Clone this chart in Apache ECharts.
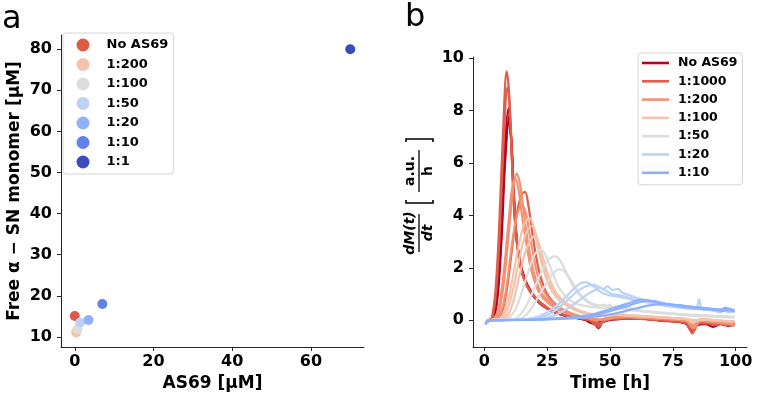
<!DOCTYPE html>
<html><head><meta charset="utf-8">
<script src="https://cdn.jsdelivr.net/npm/echarts@6/dist/echarts.min.js"></script>
<style>html,body{margin:0;padding:0;background:#fff}#c{width:759px;height:400px}</style>
</head><body><div id="c"></div>
<script>
// ---------- Panel a data ----------
const ratiosA = ['No AS69','1:200','1:100','1:50','1:20','1:10','1:1'];
const as69Conc = [0, 0.35, 0.7, 1.4, 3.5, 7, 70];
const freeMonomer = [15.1, 11.1, 11.9, 13.5, 14.1, 18.0, 80.0];
const colorsA = ['#dc5a46','#f3c2aa','#dcdcdd','#bed2f6','#8fb1fe','#6282ea','#3b4cc0'];
const xTicksA = [0, 20, 40, 60];
const yTicksA = [10, 20, 30, 40, 50, 60, 70, 80];

// ---------- Panel b data ----------
const ratiosB = ['No AS69','1:1000','1:200','1:100','1:50','1:20','1:10'];
const colorsB = ['#b40426','#dd5f4b','#f29274','#f4c3ab','#dcdddd','#bcd2f7','#8db0fe'];
const xTicksB = [0, 25, 50, 75, 100];
const yTicksB = [0, 2, 4, 6, 8, 10];

const noAS69_1 = [[0.5,-0.1],[2,0],[3.5,0.15],[5,1.0],[6.5,3.2],[8,6.4],[9.6,8.1],[10.6,7.0],[11.5,5.0],[12.5,3.4],[14,2.3],[16,1.6],[18,1.2],[20,0.9],[23,0.6],[26,0.4],[30,0.25],[34,0.15],[38,0.08],[41,0.0],[43,-0.1],[45,-0.2],[46.5,-0.05],[50,0.05],[55,0.1],[60,0.05],[65,0.05],[70,0.0],[75,-0.02],[80,-0.08],[82.5,-0.4],[84,-0.1],[88,-0.12],[92,-0.15],[95,-0.1],[97,-0.22],[99.5,-0.12]];
const noAS69_2 = [[0.5,-0.12],[2,0],[3.8,0.12],[5.3,0.9],[6.8,3.0],[8.3,6.1],[9.9,7.8],[10.9,6.6],[11.8,4.7],[12.8,3.2],[14.3,2.2],[16.3,1.5],[18.3,1.1],[21,0.8],[24,0.55],[27,0.35],[31,0.2],[35,0.12],[39,0.05],[42,-0.05],[44,-0.15],[45.5,-0.3],[47,-0.08],[51,0.02],[56,0.06],[61,0.08],[66,0.03],[71,-0.02],[76,-0.05],[80,-0.12],[83,-0.45],[84.5,-0.2],[88,-0.15],[91,-0.25],[94,-0.15],[97,-0.18],[99.5,-0.2]];
const noAS69_3 = [[0.5,-0.1],[2,0],[3.6,0.1],[5.1,0.9],[6.6,3.0],[8.1,6.0],[9.8,7.6],[10.8,6.8],[11.7,4.9],[12.7,3.3],[14.2,2.2],[16.2,1.5],[18.2,1.1],[21,0.75],[24,0.5],[28,0.3],[32,0.18],[36,0.1],[40,0.02],[43,-0.12],[45,-0.1],[48,0.0],[53,0.08],[58,0.1],[63,0.06],[68,0.02],[73,0.0],[78,-0.06],[82,-0.2],[83.5,-0.35],[85,-0.08],[89,-0.1],[93,-0.12],[96,-0.15],[99.5,-0.08]];

const r1000_1 = [[0.5,-0.12],[2,0],[3,0.1],[4.5,1.2],[6,3.8],[7.5,7.3],[8.9,9.5],[9.9,8.6],[11,6.0],[12.2,3.8],[13.5,2.5],[15,1.8],[17,1.3],[19,1.0],[22,0.7],[25,0.45],[29,0.3],[33,0.18],[37,0.1],[41,0.02],[44,-0.1],[45.5,-0.25],[47,-0.05],[50,0.05],[55,0.08],[60,0.06],[65,0.04],[70,0.0],[75,-0.03],[80,-0.1],[82.8,-0.5],[84,-0.15],[88,-0.1],[92,-0.18],[95,-0.1],[98,-0.2],[99.5,-0.1]];
const r1000_2 = [[0.5,-0.1],[2,0],[3.2,0.1],[4.7,1.1],[6.2,3.5],[7.7,6.8],[9.2,8.9],[10.2,8.0],[11.3,5.6],[12.5,3.6],[13.8,2.4],[15.3,1.7],[17.3,1.25],[19.5,0.95],[22.5,0.65],[26,0.42],[30,0.26],[34,0.15],[38,0.08],[42,0.0],[44.5,-0.18],[46,-0.1],[49,0.02],[54,0.06],[59,0.08],[64,0.05],[69,0.02],[74,-0.02],[79,-0.06],[82,-0.15],[83.3,-0.42],[85,-0.1],[89,-0.12],[93,-0.1],[96,-0.2],[99.5,-0.15]];
const r1000_3 = [[0.5,-0.1],[2,0],[5,0.05],[7,0.3],[9,1.2],[11,2.7],[13,4.1],[14.8,4.8],[16.2,4.9],[17.5,4.4],[19,3.4],[20.5,2.5],[22,1.8],[24,1.2],[26,0.85],[29,0.55],[33,0.3],[37,0.15],[41,0.05],[44,-0.05],[46,-0.15],[48,0.0],[52,0.08],[58,0.1],[64,0.06],[70,0.02],[76,0.0],[81,-0.08],[83,-0.35],[85,-0.05],[90,-0.1],[95,-0.15],[99.5,-0.1]];

const r200_1 = [[0.5,-0.1],[2,0],[4,0.05],[6,0.4],[8,1.6],[10,3.6],[11.5,5.0],[12.8,5.6],[14,5.3],[15.5,4.3],[17,3.2],[19,2.1],[21,1.4],[23,1.0],[26,0.7],[30,0.42],[34,0.25],[38,0.15],[42,0.08],[46,0.02],[50,0.1],[55,0.14],[60,0.12],[65,0.1],[70,0.08],[75,0.04],[80,0.0],[83,-0.3],[85,0.0],[90,-0.05],[95,-0.12],[99.5,-0.15]];
const r200_2 = [[0.5,-0.1],[2,0],[4,0.08],[5.8,0.5],[7.7,1.8],[9.6,3.7],[11,5.0],[12.3,5.4],[13.6,5.0],[15,4.0],[16.6,3.0],[18.5,2.0],[20.5,1.35],[22.5,0.95],[25.5,0.65],[29,0.42],[33,0.26],[37,0.15],[41,0.08],[45,0.0],[48,0.06],[53,0.12],[58,0.12],[63,0.1],[68,0.07],[73,0.05],[78,0.0],[82,-0.1],[83.8,-0.28],[86,-0.02],[91,-0.08],[96,-0.1],[99.5,-0.2]];
const r200_3 = [[0.5,-0.1],[2,0],[5,0.08],[7,0.4],[9,1.4],[11,2.9],[13,4.0],[15,4.4],[16.5,4.1],[18,3.3],[19.5,2.5],[21,1.8],[23,1.25],[25,0.9],[28,0.6],[32,0.38],[36,0.22],[40,0.12],[44,0.05],[48,0.02],[52,0.1],[57,0.13],[62,0.1],[67,0.08],[72,0.04],[77,0.02],[81,-0.05],[83,-0.2],[85,0.02],[90,-0.02],[95,-0.08],[99.5,-0.1]];

const r100_1 = [[0.5,-0.1],[2,0],[6,0.06],[8,0.35],[10,1.0],[12,2.0],[14,3.0],[16,3.7],[18,3.9],[19.5,3.6],[21,2.9],[23,2.1],[25,1.5],[27,1.1],[30,0.75],[34,0.5],[38,0.32],[42,0.22],[46,0.15],[50,0.2],[55,0.2],[60,0.16],[65,0.14],[70,0.12],[75,0.08],[80,0.05],[83,-0.1],[86,0.04],[90,0.0],[95,-0.02],[99.5,-0.05]];
const r100_2 = [[0.5,-0.1],[2,0],[7,0.06],[9,0.35],[11,1.0],[13,1.9],[15,2.8],[17,3.4],[19,3.6],[20.5,3.3],[22,2.7],[24,1.95],[26,1.4],[28,1.05],[31,0.72],[35,0.48],[39,0.32],[43,0.22],[47,0.18],[51,0.22],[56,0.2],[61,0.16],[66,0.14],[71,0.1],[76,0.08],[81,0.04],[84,-0.05],[87,0.05],[92,0.0],[96,-0.04],[99.5,-0.02]];
const r100_3 = [[0.5,-0.1],[2,0],[8,0.06],[10,0.3],[12,0.9],[14,1.7],[16,2.5],[18,3.0],[20,3.2],[21.5,3.0],[23,2.5],[25,1.85],[27,1.35],[29,1.0],[32,0.7],[36,0.46],[40,0.3],[44,0.22],[48,0.2],[52,0.24],[57,0.2],[62,0.17],[67,0.13],[72,0.1],[77,0.07],[82,0.03],[85,0.0],[90,0.02],[95,-0.02],[99.5,-0.04]];

const r50_1 = [[0.5,-0.12],[2,0],[9,0.05],[12,0.35],[14,0.8],[16,1.4],[18,2.0],[20,2.5],[22.3,2.7],[24,2.55],[26,2.1],[28,1.6],[30,1.2],[33,0.85],[36,0.65],[40,0.55],[44,0.5],[48,0.45],[50,0.6],[52,0.4],[55,0.55],[58,0.4],[62,0.35],[67,0.3],[72,0.26],[77,0.22],[82,0.18],[86,0.15],[90,0.14],[95,0.12],[99.5,0.1]];
const r50_2 = [[0.5,-0.12],[2,0],[12,0.05],[15,0.3],[18,0.8],[20,1.25],[22,1.7],[24,2.1],[26,2.35],[28,2.45],[30,2.3],[32,1.95],[34,1.55],[36,1.2],[39,0.85],[42,0.65],[45,0.55],[48,0.6],[50,0.45],[53,0.55],[56,0.42],[60,0.4],[65,0.33],[70,0.28],[75,0.25],[80,0.22],[85,0.2],[90,0.18],[95,0.15],[99.5,0.12]];
const r50_3 = [[0.5,-0.12],[2,0],[14,0.05],[17,0.25],[20,0.65],[23,1.15],[26,1.6],[28,1.85],[30,1.95],[32,1.85],[34,1.6],[36,1.3],[38,1.0],[41,0.75],[44,0.6],[47,0.55],[50,0.5],[53,0.45],[57,0.5],[60,0.4],[65,0.35],[70,0.3],[75,0.26],[80,0.22],[85,0.2],[90,0.17],[95,0.15],[99.5,0.13]];

const r20_1 = [[0.5,-0.15],[2,0],[15,0.03],[20,0.1],[24,0.25],[28,0.5],[32,0.85],[35,1.15],[38,1.4],[40,1.45],[42,1.4],[44,1.25],[46,1.1],[48,1.0],[50,0.95],[53,0.9],[56,0.85],[60,0.75],[64,0.7],[68,0.62],[72,0.55],[76,0.5],[80,0.45],[84,0.42],[85.5,0.8],[86.5,0.45],[90,0.4],[93,0.35],[95,0.45],[97,0.3],[99.5,0.35]];
const r20_2 = [[0.5,-0.15],[2,0],[18,0.03],[22,0.1],[26,0.25],[30,0.5],[34,0.85],[37,1.1],[40,1.28],[43,1.35],[45,1.3],[47,1.2],[49,1.1],[51,1.0],[54,0.95],[57,0.88],[60,0.8],[64,0.72],[68,0.65],[72,0.58],[76,0.52],[80,0.47],[84,0.43],[88,0.4],[91,0.38],[94,0.3],[96,0.42],[98,0.32],[99.5,0.38]];
const r20_3 = [[0.5,-0.15],[2,0],[20,0.03],[25,0.1],[30,0.28],[34,0.5],[38,0.78],[41,1.0],[44,1.15],[46,1.25],[47.5,1.2],[49,1.3],[51,1.15],[53,1.2],[55,1.05],[58,0.95],[61,0.85],[64,0.78],[68,0.7],[72,0.62],[76,0.55],[80,0.5],[84,0.45],[88,0.42],[92,0.38],[95,0.36],[97,0.45],[99.5,0.3]];

const r10_1 = [[0.5,-0.15],[1.5,0],[10,0.01],[20,0.03],[30,0.08],[38,0.15],[44,0.25],[50,0.42],[55,0.58],[59,0.7],[62,0.78],[65,0.75],[68,0.7],[72,0.62],[76,0.56],[80,0.5],[84,0.46],[88,0.42],[92,0.4],[95,0.36],[97,0.45],[99.5,0.32]];
const r10_2 = [[0.5,-0.15],[1.5,0],[12,0.01],[22,0.03],[32,0.08],[40,0.15],[46,0.25],[52,0.4],[57,0.55],[61,0.67],[65,0.75],[68,0.72],[71,0.66],[75,0.6],[79,0.55],[83,0.5],[87,0.46],[91,0.42],[94,0.4],[96,0.48],[98,0.36],[99.5,0.4]];
const r10_3 = [[0.5,-0.15],[1.5,0],[15,0.01],[25,0.03],[35,0.07],[43,0.13],[50,0.22],[56,0.35],[61,0.47],[65,0.56],[68,0.6],[71,0.62],[74,0.6],[78,0.57],[82,0.52],[86,0.48],[90,0.45],[93,0.42],[96,0.38],[98,0.44],[99.5,0.35]];

const curveGroups = [
  ['No AS69', [noAS69_1, noAS69_2, noAS69_3]],
  ['1:1000', [r1000_1, r1000_2, r1000_3]],
  ['1:200', [r200_1, r200_2, r200_3]],
  ['1:100', [r100_1, r100_2, r100_3]],
  ['1:50', [r50_1, r50_2, r50_3]],
  ['1:20', [r20_1, r20_2, r20_3]],
  ['1:10', [r10_1, r10_2, r10_3]]
];

// ---------- build ----------
const FONT = 'DejaVu Sans';
const AX = '#262626';
const chart = echarts.init(document.getElementById('c'), null, {renderer: 'canvas'});

function axisCommon(ticks, min, max) {
  return {
    type: 'value', min: min, max: max, splitLine: {show: false},
    axisLine: {show: true, onZero: false, lineStyle: {color: AX, width: 1}},
    axisTick: {show: true, inside: false, length: 4, customValues: ticks, lineStyle: {color: AX}},
    axisLabel: {customValues: ticks, color: '#000', fontSize: 16, fontWeight: 'bold', fontFamily: FONT},
    nameTextStyle: {color: '#000', fontSize: 17, fontWeight: 'bold', fontFamily: FONT}
  };
}

const series = [];
ratiosA.forEach((r, i) => {
  series.push({
    type: 'scatter', name: 'a|' + r, xAxisIndex: 0, yAxisIndex: 0,
    data: [[as69Conc[i], freeMonomer[i]]], symbolSize: 10,
    itemStyle: {color: colorsA[i], opacity: 1}, z: 2 + i
  });
});
curveGroups.forEach(([r, reps], gi) => {
  reps.forEach(rep => {
    series.push({
      type: 'line', name: 'b|' + r, xAxisIndex: 1, yAxisIndex: 1,
      data: rep, symbol: 'none', smooth: 0.35,
      lineStyle: {color: colorsB[gi], width: 2.2}, itemStyle: {color: colorsB[gi]},
      z: 2 + gi, animation: false
    });
  });
});

const xa = axisCommon(xTicksA, -3.5, 73.5);
xa.gridIndex = 0; xa.name = 'AS69 [µM]'; xa.nameLocation = 'middle'; xa.nameGap = 27; xa.axisLabel.margin = 7;
const ya = axisCommon(yTicksA, 7.55, 83.45);
ya.gridIndex = 0; ya.name = 'Free α − SN monomer [µM]'; ya.nameLocation = 'middle'; ya.nameGap = 38; ya.axisLabel.margin = 9;
const xb = axisCommon(xTicksB, -4.5, 104.5);
xb.gridIndex = 1; xb.name = 'Time [h]'; xb.nameLocation = 'middle'; xb.nameGap = 24; xb.axisLabel.margin = 7;
const yb = axisCommon(yTicksB, -1.02, 10.05);
yb.gridIndex = 1; yb.axisLabel.margin = 9;

const option = {
  animation: false,
  backgroundColor: '#fff',
  grid: [
    {left: 61, top: 35, width: 303, height: 312},
    {left: 473, top: 57, width: 274, height: 290}
  ],
  xAxis: [xa, xb],
  yAxis: [ya, yb],
  legend: [
    {
      data: ratiosA.map(r => ({name: 'a|' + r, icon: 'circle'})),
      formatter: n => n.split('|')[1],
      orient: 'vertical', left: 63, top: 33, itemWidth: 13, itemHeight: 13, itemGap: 6.5,
      padding: [5.5, 5, 5.5, 13.5], borderColor: '#d6d6d6', borderWidth: 1, borderRadius: 3,
      backgroundColor: 'rgba(255,255,255,0.8)',
      textStyle: {color: '#000', fontSize: 13, fontWeight: 'bold', fontFamily: FONT, padding: [0, 0, 0, 12]},
      selectedMode: false
    },
    {
      data: ratiosB.map((r, i) => ({name: 'b|' + r, icon: 'rect', itemStyle: {color: colorsB[i]}})),
      formatter: n => n.split('|')[1],
      orient: 'vertical', left: 638, top: 53, itemWidth: 27, itemHeight: 2.6, itemGap: 4.3,
      padding: [3, 5, 5, 4], borderColor: '#d6d6d6', borderWidth: 1, borderRadius: 3,
      backgroundColor: 'rgba(255,255,255,0.8)',
      textStyle: {color: '#000', fontSize: 12.5, lineHeight: 14, fontWeight: 'bold', fontFamily: FONT, padding: [0, 0, 0, 4]},
      selectedMode: false
    }
  ],
  graphic: [
    {type: 'text', left: 2, top: 4, style: {text: 'a', fontSize: 32, fontFamily: FONT, fill: '#000'}},
    {type: 'text', left: 405, top: 2, style: {text: 'b', fontSize: 32, fontFamily: FONT, fill: '#000'}},
    {
      type: 'group', x: 419, y: 196, rotation: Math.PI / 2,
      children: [
        {type: 'text', x: -37, y: -2, style: {text: 'dM(t)', font: 'italic bold 14px "DejaVu Sans"', fill: '#000', align: 'center', verticalAlign: 'bottom'}},
        {type: 'line', shape: {x1: -56, y1: 0, x2: -18, y2: 0}, style: {stroke: '#000', lineWidth: 1.3}},
        {type: 'text', x: -37, y: 2, style: {text: 'dt', font: 'italic bold 14px "DejaVu Sans"', fill: '#000', align: 'center', verticalAlign: 'top'}},
        {type: 'polyline', shape: {points: [[-4, -13], [-7, -13], [-7, 14], [-4, 14]]}, style: {stroke: '#000', lineWidth: 1.6, fill: null}},
        {type: 'polyline', shape: {points: [[54, -13], [57, -13], [57, 14], [54, 14]]}, style: {stroke: '#000', lineWidth: 1.6, fill: null}},
        {type: 'text', x: 25, y: -2, style: {text: 'a.u.', font: 'bold 14px "DejaVu Sans"', fill: '#000', align: 'center', verticalAlign: 'bottom'}},
        {type: 'line', shape: {x1: 4, y1: 0, x2: 46, y2: 0}, style: {stroke: '#000', lineWidth: 1.3}},
        {type: 'text', x: 25, y: 2, style: {text: 'h', font: 'bold 14px "DejaVu Sans"', fill: '#000', align: 'center', verticalAlign: 'top'}}
      ]
    }
  ],
  series: series
};
chart.setOption(option);
</script>
</body></html>
